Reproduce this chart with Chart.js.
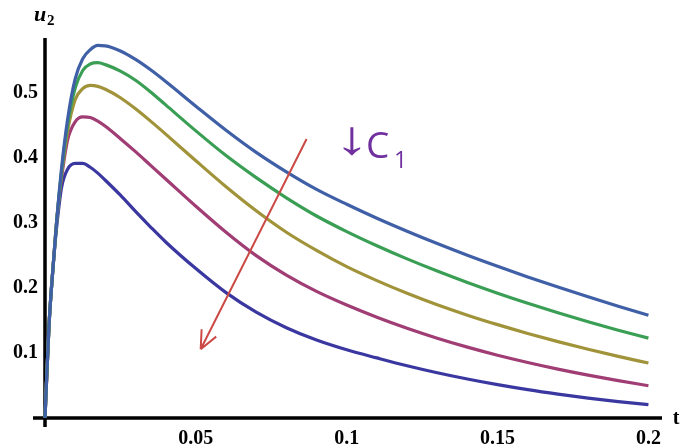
<!DOCTYPE html>
<html>
<head>
<meta charset="utf-8">
<script src="https://cdn.jsdelivr.net/npm/chart.js@4.4.1/dist/chart.umd.min.js"></script>
<style>
html,body{margin:0;padding:0;background:#fff;}
#wrap{width:682px;height:448px;position:relative;}
</style>
</head>
<body>
<div id="wrap"><canvas id="c" width="682" height="448"></canvas></div>
<script>
const tValues = [0, 0.0013, 0.0028, 0.004, 0.0055, 0.0075, 0.01, 0.0125, 0.015, 0.0175, 0.02, 0.025, 0.03, 0.035, 0.04, 0.05, 0.06, 0.07, 0.08, 0.09, 0.1, 0.11, 0.12, 0.13, 0.14, 0.15, 0.16, 0.17, 0.18, 0.19, 0.2];
const seriesBlue    = [0,0.14,0.24,0.31,0.385, 0.46,0.522,0.553,0.567,0.5735, 0.573,0.565,0.552,0.536,0.518, 0.480,0.443,0.409,0.379,0.352, 0.329,0.3075,0.2875,0.2685,0.2505, 0.2335,0.2172,0.2016,0.1866,0.1721, 0.1581];
const seriesGreen   = [0,0.14,0.24,0.31,0.38, 0.452,0.508,0.535,0.545,0.547, 0.544,0.534,0.520,0.502,0.482, 0.442,0.404,0.370,0.339,0.311, 0.287,0.2652,0.245,0.2262,0.2086, 0.1921,0.1766,0.162,0.1482,0.1352, 0.123];
const seriesYellow  = [0,0.14,0.24,0.31,0.375, 0.442,0.490,0.507,0.512,0.5105, 0.506,0.493,0.476,0.457,0.437, 0.396,0.356,0.319,0.286,0.258, 0.233,0.2115,0.192,0.1743,0.1583, 0.1437,0.1302,0.1176,0.1058,0.0949, 0.0846];
const seriesMagenta = [0,0.14,0.24,0.31,0.37, 0.428,0.456,0.4635,0.4625,0.457, 0.449,0.430,0.410,0.389,0.368, 0.326,0.286,0.250,0.220,0.195, 0.174,0.1552,0.1382,0.1229,0.1091, 0.0967,0.0855,0.0753,0.066,0.0575, 0.0497];
const seriesPurple  = [0,0.14,0.24,0.30,0.355, 0.383,0.392,0.392,0.386,0.377, 0.366,0.343,0.318,0.294,0.271, 0.230,0.193,0.163,0.139,0.120, 0.105,0.0925,0.0805,0.0697,0.060, 0.0513,0.0436,0.0368,0.0307,0.0253, 0.0205];
const xTickLabels = [0.05, 0.1, 0.15, 0.2];
const yTickLabels = [0.1, 0.2, 0.3, 0.4, 0.5];
const arrowPoints = [[0.0867, 0.4295], [0.0516, 0.1058]]; // tail -> tip (data coords)
const c1Anchor = [0.0984, 0.400];

const colors = ['#3f5fa6', '#3a9f55', '#a0933a', '#a03d74', '#3a38a0'];
const allSeries = [seriesBlue, seriesGreen, seriesYellow, seriesMagenta, seriesPurple];

const datasets = allSeries.map((s, i) => ({
  data: tValues.map((t, j) => ({x: t, y: s[j]})),
  borderColor: colors[i],
  borderWidth: 3.2,
  pointRadius: 0,
  fill: false,
  cubicInterpolationMode: 'monotone',
  clip: false
}));

const fmt = v => String(Math.round(v * 1000) / 1000);

const decor = {
  id: 'decor',
  beforeDatasetsDraw(chart) {
    const ctx = chart.ctx, xs = chart.scales.x, ys = chart.scales.y;
    const x0 = xs.getPixelForValue(0), y0 = ys.getPixelForValue(0);
    ctx.save();
    ctx.strokeStyle = '#000';
    ctx.lineWidth = 3.5;
    ctx.beginPath();
    ctx.moveTo(x0 - 12, y0);
    ctx.lineTo(xs.right, y0);
    ctx.moveTo(x0, ys.top);
    ctx.lineTo(x0, y0 + 9);
    ctx.stroke();
    ctx.restore();
  },
  afterDatasetsDraw(chart) {
    const ctx = chart.ctx, xs = chart.scales.x, ys = chart.scales.y;
    ctx.save();
    // red arrow
    const ax1 = xs.getPixelForValue(arrowPoints[0][0]), ay1 = ys.getPixelForValue(arrowPoints[0][1]);
    const ax2 = xs.getPixelForValue(arrowPoints[1][0]), ay2 = ys.getPixelForValue(arrowPoints[1][1]);
    ctx.strokeStyle = '#cc4a45';
    ctx.lineWidth = 2;
    ctx.beginPath();
    ctx.moveTo(ax1, ay1); ctx.lineTo(ax2, ay2);
    const ang = Math.atan2(ay2 - ay1, ax2 - ax1);
    const hl = 20, ha = 0.42;
    ctx.moveTo(ax2, ay2);
    ctx.lineTo(ax2 - hl * Math.cos(ang - ha), ay2 - hl * Math.sin(ang - ha));
    ctx.moveTo(ax2, ay2);
    ctx.lineTo(ax2 - hl * Math.cos(ang + ha), ay2 - hl * Math.sin(ang + ha));
    ctx.stroke();
    // C1 label
    const lx = xs.getPixelForValue(c1Anchor[0]), ly = ys.getPixelForValue(c1Anchor[1]);
    ctx.fillStyle = '#7030a0';
    ctx.textBaseline = 'alphabetic';
    ctx.textAlign = 'left';
    ctx.save();
    ctx.translate(lx - 8, ly - 4);
    ctx.scale(1.5, 1);
    ctx.font = '47px "Liberation Sans"';
    ctx.fillText('\u2193', 0, 0);
    ctx.restore();
    ctx.font = '37px "Open Sans"';
    ctx.fillText('C', lx + 24, ly);
    ctx.font = '23px "Open Sans"';
    ctx.fillText('1', lx + 52, ly + 10);
    // axis labels
    ctx.fillStyle = '#000';
    ctx.font = 'bold 20px "Liberation Serif"';
    ctx.textAlign = 'center';
    ctx.textBaseline = 'middle';
    ctx.fillText('t', xs.right + 14, ys.getPixelForValue(0) + 1);
    ctx.font = 'bold italic 22px "Liberation Serif"';
    ctx.textAlign = 'left';
    ctx.fillText('u', 34, 15);
    ctx.font = 'bold 15px "Liberation Serif"';
    ctx.fillText('2', 47, 21);
    ctx.restore();
  }
};

new Chart(document.getElementById('c'), {
  type: 'line',
  data: { datasets },
  plugins: [decor],
  options: {
    responsive: false,
    animation: false,
    events: [],
    layout: { padding: { top: 38, right: 20, left: 0, bottom: 0 } },
    plugins: { legend: { display: false }, tooltip: { enabled: false } },
    scales: {
      x: {
        type: 'linear',
        min: 0, max: 0.2045,
        grid: { display: false, drawTicks: false },
        border: { display: false },
        afterBuildTicks(scale) { scale.ticks = xTickLabels.map(v => ({value: v})); },
        afterFit(scale) { scale.height = 30; },
        ticks: {
          padding: 9,
          maxRotation: 0,
          autoSkip: false,
          color: '#000',
          font: { family: '"Liberation Serif"', weight: 'bold', size: 20 },
          callback: v => fmt(v)
        }
      },
      y: {
        type: 'linear',
        min: 0, max: 0.585,
        grid: { display: false, drawTicks: false },
        border: { display: false },
        afterBuildTicks(scale) { scale.ticks = yTickLabels.map(v => ({value: v})); },
        afterFit(scale) { scale.width = 45; },
        ticks: {
          padding: 7,
          autoSkip: false,
          color: '#000',
          font: { family: '"Liberation Serif"', weight: 'bold', size: 20 },
          callback: v => fmt(v)
        }
      }
    }
  }
});
</script>
</body>
</html>
